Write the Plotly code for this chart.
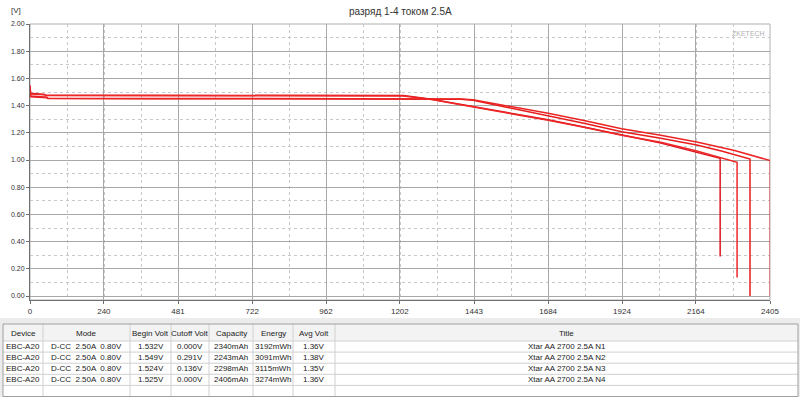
import plotly.graph_objects as go

# ---------------- data ----------------
title_text = "разряд 1-4 током 2.5A"
y_unit_label = "[V]"
watermark = "ZKETECH"

x_tick_labels = ["0", "240", "481", "722", "962", "1202", "1443", "1684", "1924", "2164", "2405"]

# capacity (mAh) / voltage (V) for each discharge curve
n1_x = [0, 2, 55, 58, 400, 800, 1200, 1400, 1440, 1560, 1684, 1800, 1923, 2050, 2167, 2250, 2340, 2340]
n1_v = [1.532, 1.47, 1.462, 1.452, 1.451, 1.450, 1.449, 1.447, 1.439, 1.383, 1.327, 1.270, 1.208, 1.160, 1.110, 1.065, 1.007, 0.0]

n2_x = [0, 2, 48, 50, 400, 800, 1213, 1300, 1441, 1560, 1684, 1800, 1923, 2050, 2167, 2243, 2243]
n2_v = [1.549, 1.49, 1.482, 1.477, 1.476, 1.475, 1.474, 1.449, 1.394, 1.347, 1.296, 1.243, 1.186, 1.125, 1.056, 1.012, 0.291]

n3_x = [0, 2, 48, 50, 400, 800, 1213, 1300, 1441, 1560, 1684, 1800, 1923, 2050, 2167, 2298, 2298]
n3_v = [1.524, 1.485, 1.480, 1.474, 1.473, 1.472, 1.471, 1.446, 1.390, 1.343, 1.292, 1.240, 1.182, 1.130, 1.066, 0.983, 0.136]

n4_x = [0, 2, 55, 58, 400, 800, 1200, 1400, 1440, 1560, 1684, 1800, 1923, 2050, 2167, 2290, 2406, 2406]
n4_v = [1.525, 1.465, 1.458, 1.454, 1.453, 1.452, 1.451, 1.449, 1.443, 1.395, 1.343, 1.290, 1.230, 1.182, 1.132, 1.070, 0.995, 0.0]

series = [
    ("N1", n1_x, n1_v, "rgb(232,28,28)"),
    ("N2", n2_x, n2_v, "rgb(220,20,30)"),
    ("N3", n3_x, n3_v, "rgb(238,40,40)"),
    ("N4", n4_x, n4_v, "rgb(235,35,35)"),
]

# table
tbl_header = ["Device", "Mode", "Begin Volt", "Cutoff Volt", "Capacity", "Energy", "Avg Volt", "Title"]
tbl_device = ["EBC-A20", "EBC-A20", "EBC-A20", "EBC-A20", ""]
tbl_mode = ["D-CC  2.50A  0.80V"] * 4 + [""]
tbl_begin = ["1.532V", "1.549V", "1.524V", "1.525V", ""]
tbl_cutoff = ["0.000V", "0.291V", "0.136V", "0.000V", ""]
tbl_capacity = ["2340mAh", "2243mAh", "2298mAh", "2406mAh", ""]
tbl_energy = ["3192mWh", "3091mWh", "3115mWh", "3274mWh", ""]
tbl_avg = ["1.36V", "1.38V", "1.35V", "1.36V", ""]
tbl_title = ["Xtar AA 2700 2.5A N1", "Xtar AA 2700 2.5A N2", "Xtar AA 2700 2.5A N3", "Xtar AA 2700 2.5A N4", ""]
tbl_columns = [tbl_device, tbl_mode, tbl_begin, tbl_cutoff, tbl_capacity, tbl_energy, tbl_avg, tbl_title]

# ---------------- figure ----------------
W, H = 800, 397
FONT = "Liberation Sans"


def fx(px):
    return px / W


def fy(py):
    return (H - py) / H


fig = go.Figure()
for name, xs, vs, col in series:
    fig.add_trace(go.Scatter(x=xs, y=vs, mode="lines", name=name,
                             line=dict(color=col, width=1.5), showlegend=False,
                             hoverinfo="skip"))

x_tick_vals = [float(t) for t in x_tick_labels]
y0_px, ytop_px, ybot_px = 296, 24, 300
px_per_v = (y0_px - ytop_px) / 2.0
y_min = -(ybot_px - y0_px) / px_per_v

shapes = [dict(type="rect", xref="paper", yref="paper",
               x0=fx(30), x1=fx(770), y0=fy(ybot_px), y1=fy(ytop_px),
               line=dict(color="#b0b0b0", width=1), layer="below")]
annotations = []

# ---- table drawn with shapes + annotations ----
col_edges = [3, 43, 130, 171, 209, 253, 293, 335, 798]
head_top, head_bot, row_h = 324, 341, 11.1
n_rows = len(tbl_device)
tbl_bottom = head_bot + n_rows * row_h

# window background behind the table
shapes.append(dict(type="rect", xref="paper", yref="paper", x0=0, x1=1,
                   y0=0, y1=fy(318), fillcolor="#ececec", line=dict(width=0), layer="below"))
# body and header fills
shapes.append(dict(type="rect", xref="paper", yref="paper", x0=fx(col_edges[0]), x1=fx(col_edges[-1]),
                   y0=fy(tbl_bottom), y1=fy(head_bot), fillcolor="white", line=dict(width=0), layer="below"))
shapes.append(dict(type="rect", xref="paper", yref="paper", x0=fx(col_edges[0]), x1=fx(col_edges[-1]),
                   y0=fy(head_bot), y1=fy(head_top), fillcolor="#f3f3f3", line=dict(width=0), layer="below"))
# horizontal lines
for r in range(n_rows):
    yy = head_bot + r * row_h
    shapes.append(dict(type="line", xref="paper", yref="paper", x0=fx(col_edges[0]), x1=fx(col_edges[-1]),
                       y0=fy(yy), y1=fy(yy), line=dict(color="#d0d0d0", width=1)))
# vertical lines
for xe in col_edges[1:-1]:
    shapes.append(dict(type="line", xref="paper", yref="paper", x0=fx(xe), x1=fx(xe),
                       y0=fy(tbl_bottom), y1=fy(head_top), line=dict(color="#d0d0d0", width=1)))
# outer border
shapes.append(dict(type="rect", xref="paper", yref="paper", x0=fx(col_edges[0]), x1=fx(col_edges[-1]),
                   y0=fy(tbl_bottom), y1=fy(head_top), line=dict(color="#a0a0a0", width=1)))

for ci, head in enumerate(tbl_header):
    xc = (col_edges[ci] + col_edges[ci + 1]) / 2
    annotations.append(dict(text=head, x=fx(xc), y=fy((head_top + head_bot) / 2 + 1),
                            xref="paper", yref="paper", showarrow=False,
                            xanchor="center", yanchor="middle",
                            font=dict(family=FONT, size=8, color="#222")))
    for ri, val in enumerate(tbl_columns[ci]):
        if not val:
            continue
        yc = head_bot + ri * row_h + row_h / 2
        annotations.append(dict(text=val, x=fx(xc), y=fy(yc),
                                xref="paper", yref="paper", showarrow=False,
                                xanchor="center", yanchor="middle",
                                font=dict(family=FONT, size=8, color="#222")))

annotations += [
    dict(text=title_text, x=fx(400), y=fy(12), xref="paper", yref="paper",
         showarrow=False, xanchor="center", yanchor="middle",
         font=dict(family=FONT, size=10, color="#333")),
    dict(text=y_unit_label, x=fx(16), y=fy(11), xref="paper", yref="paper",
         showarrow=False, xanchor="center", yanchor="middle",
         font=dict(family=FONT, size=8, color="#333")),
    dict(text=watermark, x=fx(767), y=fy(33), xref="paper", yref="paper",
         showarrow=False, xanchor="right", yanchor="middle",
         font=dict(family=FONT, size=7, color="#b0b0b0")),
]

fig.update_layout(
    width=W, height=H,
    margin=dict(l=0, r=0, t=0, b=0),
    template="none",
    paper_bgcolor="white", plot_bgcolor="white",
    font=dict(family=FONT, size=8, color="#333"),
    xaxis=dict(domain=[fx(30), fx(770)], range=[0, 2405],
               tickvals=x_tick_vals, ticktext=x_tick_labels,
               showgrid=True, gridcolor="#a8a8a8", gridwidth=1,
               showline=True, linecolor="#707070", linewidth=1,
               ticks="outside", ticklen=3, tickcolor="#707070",
               zeroline=False, automargin=False, fixedrange=True,
               tickfont=dict(family=FONT, size=8, color="#333"),
               minor=dict(dtick=120.25, tick0=0, showgrid=True, gridcolor="#c8c8c8",
                          griddash="dot", gridwidth=1)),
    yaxis=dict(domain=[fy(ybot_px), fy(ytop_px)], range=[y_min, 2.0],
               tick0=0, dtick=0.2, tickformat=".2f",
               showgrid=True, gridcolor="#a8a8a8", gridwidth=1,
               showline=True, linecolor="#707070", linewidth=1,
               ticks="outside", ticklen=3, tickcolor="#707070",
               zeroline=False, automargin=False, fixedrange=True,
               tickfont=dict(family=FONT, size=7, color="#333"),
               minor=dict(dtick=0.1, tick0=0, showgrid=True, gridcolor="#c8c8c8",
                          griddash="dot", gridwidth=1)),
    shapes=shapes,
    annotations=annotations,
)

fig.write_html("out.html", config={"displayModeBar": False},
               post_script="document.body.style.margin='0px';document.body.style.overflow='hidden';")
